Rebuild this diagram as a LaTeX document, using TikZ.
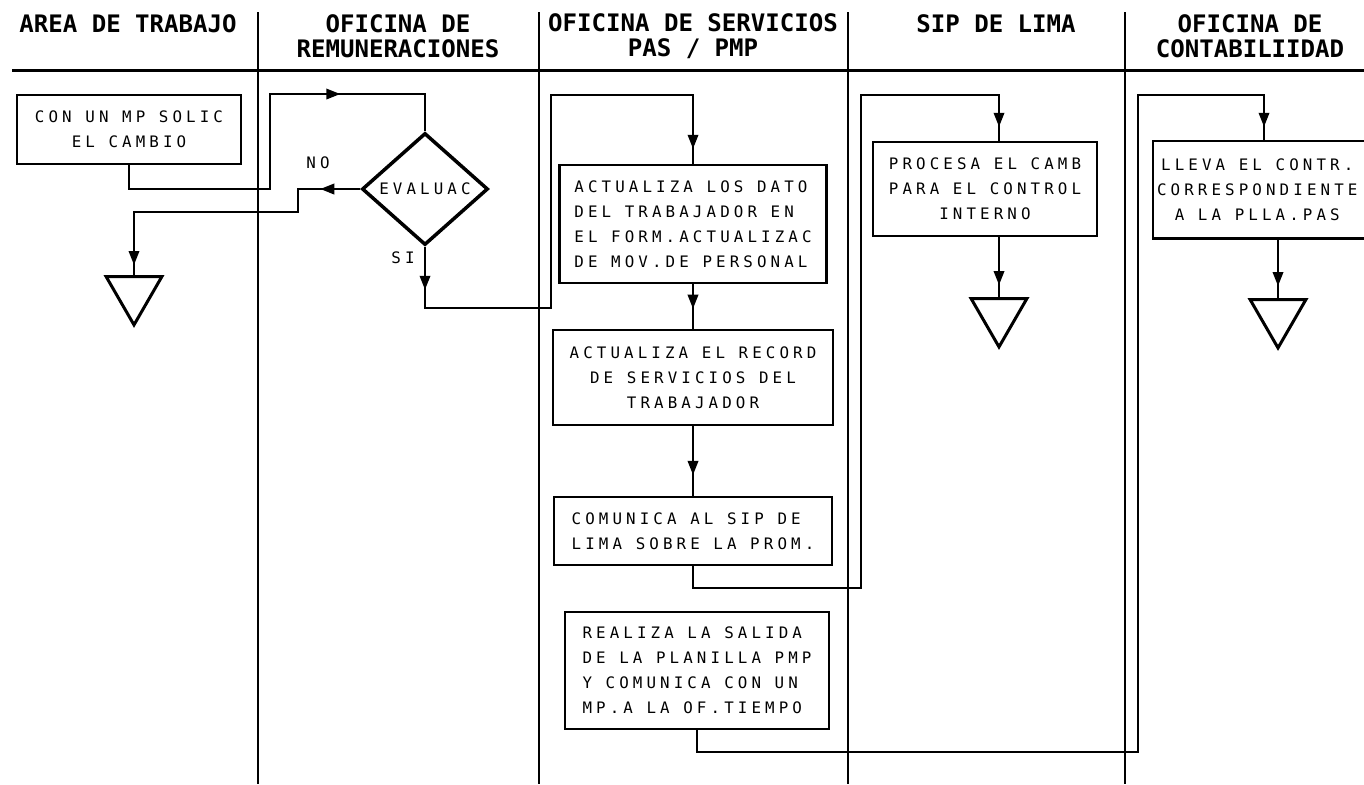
\documentclass[tikz,border=0pt]{standalone}
\usepackage{fontspec}
\newfontfamily\plotfont[LetterSpace=26]{DejaVu Sans Mono}
\newfontfamily\headfont{DejaVu Sans Mono}
\usetikzlibrary{arrows.meta,shapes.geometric,decorations.markings}

\tikzset{
    lane/.style={line width=0.35mm},
    proc/.style={draw, line width=0.5mm, inner sep=0pt, align=center,
        font=\plotfont\fontsize{9}{14.2}\selectfont},
    decision/.style={draw, diamond, line width=0.7mm, inner sep=0pt,
        font=\plotfont\fontsize{9}{14.2}\selectfont},
    stop/.style={draw, regular polygon, regular polygon sides=3,
        shape border rotate=180, line width=0.6mm, minimum size=12.9mm, inner sep=0pt},
    title/.style={align=center, font=\headfont\bfseries\fontsize{13.7}{14.2}\selectfont},
    lbl/.style={font=\plotfont\fontsize{9}{14.2}\selectfont},
    flow/.style={line width=0.4mm},
    tipat/.style={postaction={decorate, decoration={markings,
        mark=at position #1 with {\arrow{Triangle[length=2.8mm,width=2.1mm]}}}}}
}

\begin{document}
\begin{tikzpicture}[x=0.2mm, y=-0.2mm]

    \useasboundingbox (0,0) rectangle (1364,784);
    \clip (0,0) rectangle (1364,784);

    \draw[line width=0.6mm] (12,70) -- (1364,70);
    \foreach \x in {258,539,848,1125}
        \draw[lane] (\x,12) -- (\x,784);

    \node[title] (hd1) at (128,24) {AREA DE TRABAJO};
    \node[title] (hd2) at (398,36) {OFICINA DE\\REMUNERACIONES};
    \node[title] (hd3) at (693,36) {OFICINA DE SERVICIOS\\PAS / PMP};
    \node[title] (hd4) at (996,24) {SIP DE LIMA};
    \node[title] (hd5) at (1250,36) {OFICINA DE\\CONTABILIIDAD};

    \node[proc, minimum width=44.8mm, minimum height=13.8mm] (solic) at (129,129.5) {CON UN MP SOLIC\\EL CAMBIO};
    \node[decision, minimum width=25.2mm, minimum height=22.4mm] (evaluac) at (425,189) {EVALUAC};
    \node[lbl] (no) at (318,163) {NO};
    \node[lbl] (si) at (403,258) {SI};
    \node[stop, anchor=north] (end1) at (134,275) {};

    \node[proc, align=left, minimum width=53.4mm, minimum height=23.6mm] (datos) at (693,224)
        {ACTUALIZA LOS DATO\\DEL TRABAJADOR EN\\EL FORM.ACTUALIZAC\\DE MOV.DE PERSONAL};
    \node[proc, minimum width=56mm, minimum height=19mm] (record) at (693,377.5)
        {ACTUALIZA EL RECORD\\DE SERVICIOS DEL\\TRABAJADOR};
    \node[proc, align=left, minimum width=55.6mm, minimum height=13.6mm] (comunica) at (693,531)
        {COMUNICA AL SIP DE\\LIMA SOBRE LA PROM.};
    \node[proc, align=left, minimum width=52.8mm, minimum height=23.4mm] (realiza) at (697,670.5)
        {REALIZA LA SALIDA\\DE LA PLANILLA PMP\\Y COMUNICA CON UN\\MP.A LA OF.TIEMPO};

    \node[proc, minimum width=44.8mm, minimum height=18.8mm] (procesa) at (985,189)
        {PROCESA EL CAMB\\PARA EL CONTROL\\INTERNO};
    \node[stop, anchor=north] (end2) at (999,297) {};

    % box runs on past the right margin
    \node[proc, draw=none, anchor=west, minimum width=41.2mm, minimum height=19mm] (lleva) at (1153,189.5)
        {LLEVA EL CONTR.\\CORRESPONDIENTE\\A LA PLLA.PAS};
    \draw[line width=0.5mm] ([xshift=6mm]lleva.north east) -| (lleva.south west) -- ([xshift=6mm]lleva.south east);
    \node[stop, anchor=north] (end3) at (1278,298) {};

    \coordinate (c1) at (270,189);
    \coordinate (c2) at (270,94);
    \coordinate (n1) at (298,189);
    \coordinate (n2) at (298,212);
    \coordinate (s1) at (425,308);
    \coordinate (s2) at (551,308);
    \coordinate (s3) at (551,95);
    \coordinate (p1) at (861,588);
    \coordinate (p2) at (861,95);
    \coordinate (p3) at (999,95);
    \coordinate (q1) at (1138,752);
    \coordinate (q2) at (1138,95);
    \coordinate (q3) at (1264,95);

    \draw[flow, tipat=66mm] (solic.south) |- (c1) -- (c2) -| (evaluac.north);
    \draw[flow, tipat=8mm, tipat=-2mm] (evaluac.west) -- (n1) -- (n2) -| (end1.north);
    \draw[flow, tipat=8.6mm, tipat=-3mm] (evaluac.south) -- (s1) -- (s2) -- (s3) -| (datos.north);
    \draw[flow, tipat=0.55] (datos.south) -- (record.north);
    \draw[flow, tipat=0.7] (record.south) -- (comunica.north);
    \draw[flow, tipat=-2.8mm] (comunica.south) |- (p1) -- (p2) -- (p3) -- (p3 |- procesa.north);
    \draw[flow, tipat=-2.4mm] (p3 |- procesa.south) -- (end2.north);
    \draw[flow, tipat=-2.8mm] (realiza.south) |- (q1) -- (q2) -- (q3) -- (q3 |- lleva.north);
    \draw[flow, tipat=-2.4mm] (end3.north |- lleva.south) -- (end3.north);

\end{tikzpicture}
\end{document}
